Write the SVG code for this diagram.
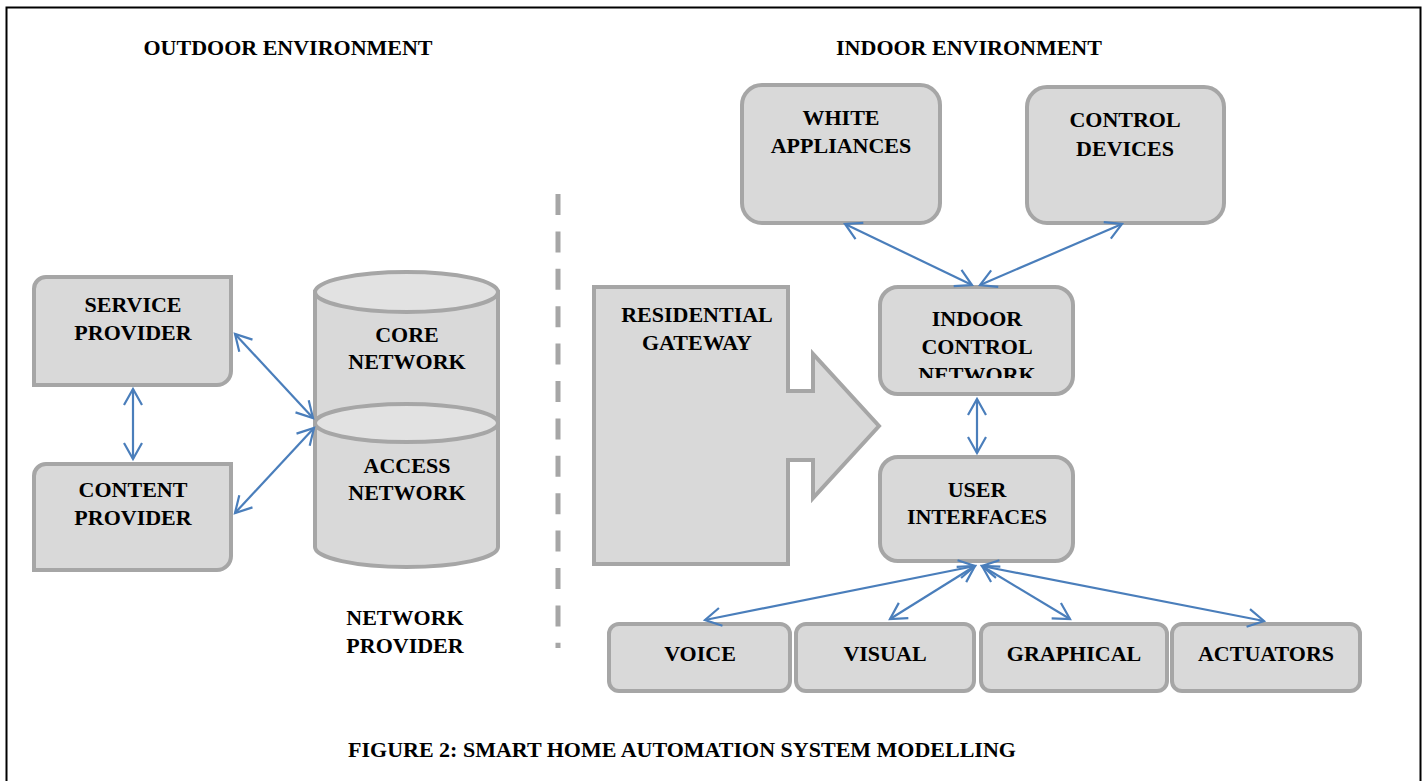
<svg xmlns="http://www.w3.org/2000/svg" width="1426" height="781" viewBox="0 0 1426 781">
<style>
.t{font-family:"Liberation Serif","Times New Roman",serif;font-weight:bold;font-size:22px;fill:#000;text-anchor:middle}
.n{fill:#D9D9D9;stroke:#A6A6A6;stroke-width:4}
.e{fill:#E2E2E2;stroke:#A6A6A6;stroke-width:4}
.c{fill:none;stroke:#4A7EBB;stroke-width:2.2;marker-start:url(#ah);marker-end:url(#ah)}
</style>
<defs>
<marker id="ah" markerUnits="userSpaceOnUse" markerWidth="40" markerHeight="40" refX="0" refY="0" viewBox="-20 -20 40 40" orient="auto-start-reverse" overflow="visible">
<path d="M-16,-9 L0,0 L-16,9" fill="none" stroke="#4A7EBB" stroke-width="2.2"/>
</marker>
<clipPath id="clipIcn"><rect x="870" y="280" width="210" height="98"/></clipPath>
</defs>
<rect x="0" y="0" width="1426" height="781" fill="#fff"/>
<rect x="6.5" y="7.5" width="1414" height="800" fill="none" stroke="#000" stroke-width="2"/>
<text class="t" x="288" y="55">OUTDOOR ENVIRONMENT</text>
<text class="t" x="969" y="55">INDOOR ENVIRONMENT</text>
<line x1="558" y1="194" x2="558" y2="648" stroke="#A6A6A6" stroke-width="5" stroke-dasharray="21,16.4"/>
<g id="service-provider">
<path class="n" d="M46,277 H231 V371 A14,14 0 0 1 217,385 H34 V289 A12,12 0 0 1 46,277 Z"/>
<text class="t" x="133" y="312">SERVICE</text>
<text class="t" x="133" y="340">PROVIDER</text>
</g>
<g id="content-provider">
<path class="n" d="M46,464 H231 V556 A14,14 0 0 1 217,570 H34 V476 A12,12 0 0 1 46,464 Z"/>
<text class="t" x="133" y="497">CONTENT</text>
<text class="t" x="133" y="525">PROVIDER</text>
</g>
<g id="core-network">
<path class="n" d="M315,292 V423 A91.5,20 0 0 0 498,423 V292 Z"/>
<ellipse class="e" cx="406.5" cy="292" rx="91.5" ry="20"/>
<text class="t" x="407" y="342">CORE</text>
<text class="t" x="407" y="369">NETWORK</text>
</g>
<g id="access-network">
<path class="n" d="M315,423 V547 A91.5,20 0 0 0 498,547 V423 Z"/>
<ellipse class="e" cx="406.5" cy="423" rx="91.5" ry="19"/>
<text class="t" x="407" y="473">ACCESS</text>
<text class="t" x="407" y="500">NETWORK</text>
</g>
<g id="network-provider-label">
<text class="t" x="405" y="625">NETWORK</text>
<text class="t" x="405" y="653">PROVIDER</text>
</g>
<g id="residential-gateway">
<polygon class="n" stroke-linejoin="miter" points="594,287 788,287 788,391 813,391 813,354 879,426 813,498 813,460 788,460 788,564 594,564"/>
<text class="t" x="697" y="322">RESIDENTIAL</text>
<text class="t" x="697" y="350">GATEWAY</text>
</g>
<g id="white-appliances">
<rect class="n" x="742" y="85" width="198" height="138" rx="20"/>
<text class="t" x="841" y="125">WHITE</text>
<text class="t" x="841" y="153">APPLIANCES</text>
</g>
<g id="control-devices">
<rect class="n" x="1027" y="87" width="197" height="136" rx="20"/>
<text class="t" x="1125" y="127">CONTROL</text>
<text class="t" x="1125" y="156">DEVICES</text>
</g>
<g id="indoor-control-network">
<rect class="n" x="880" y="287" width="193" height="107" rx="18"/>
<text class="t" x="977" y="326">INDOOR</text>
<text class="t" x="977" y="354">CONTROL</text>
<text class="t" x="977" y="382" clip-path="url(#clipIcn)">NETWORK</text>
</g>
<g id="user-interfaces">
<rect class="n" x="880" y="457" width="193" height="104" rx="18"/>
<text class="t" x="977" y="497">USER</text>
<text class="t" x="977" y="524">INTERFACES</text>
</g>
<g id="voice">
<rect class="n" x="609" y="624" width="181" height="67" rx="10"/>
<text class="t" x="700" y="661">VOICE</text>
</g>
<g id="visual">
<rect class="n" x="796" y="624" width="178" height="67" rx="10"/>
<text class="t" x="885" y="661">VISUAL</text>
</g>
<g id="graphical">
<rect class="n" x="981" y="624" width="186" height="67" rx="10"/>
<text class="t" x="1074" y="661">GRAPHICAL</text>
</g>
<g id="actuators">
<rect class="n" x="1172" y="624" width="188" height="67" rx="10"/>
<text class="t" x="1266" y="661">ACTUATORS</text>
</g>
<g id="connectors">
<line class="c" x1="133" y1="389" x2="133" y2="459"/>
<line class="c" x1="235" y1="334" x2="313" y2="418"/>
<line class="c" x1="235" y1="513" x2="314" y2="428"/>
<line class="c" x1="845" y1="224" x2="972" y2="285"/>
<line class="c" x1="1122" y1="224" x2="980" y2="285"/>
<line class="c" x1="977" y1="399" x2="977" y2="453"/>
<line class="c" x1="975" y1="566" x2="705" y2="620"/>
<line class="c" x1="975" y1="566" x2="890" y2="619"/>
<line class="c" x1="982" y1="566" x2="1070" y2="619"/>
<line class="c" x1="982" y1="566" x2="1264" y2="621"/>
</g>
<text class="t" x="682" y="757">FIGURE 2: SMART HOME AUTOMATION SYSTEM MODELLING</text>
</svg>
